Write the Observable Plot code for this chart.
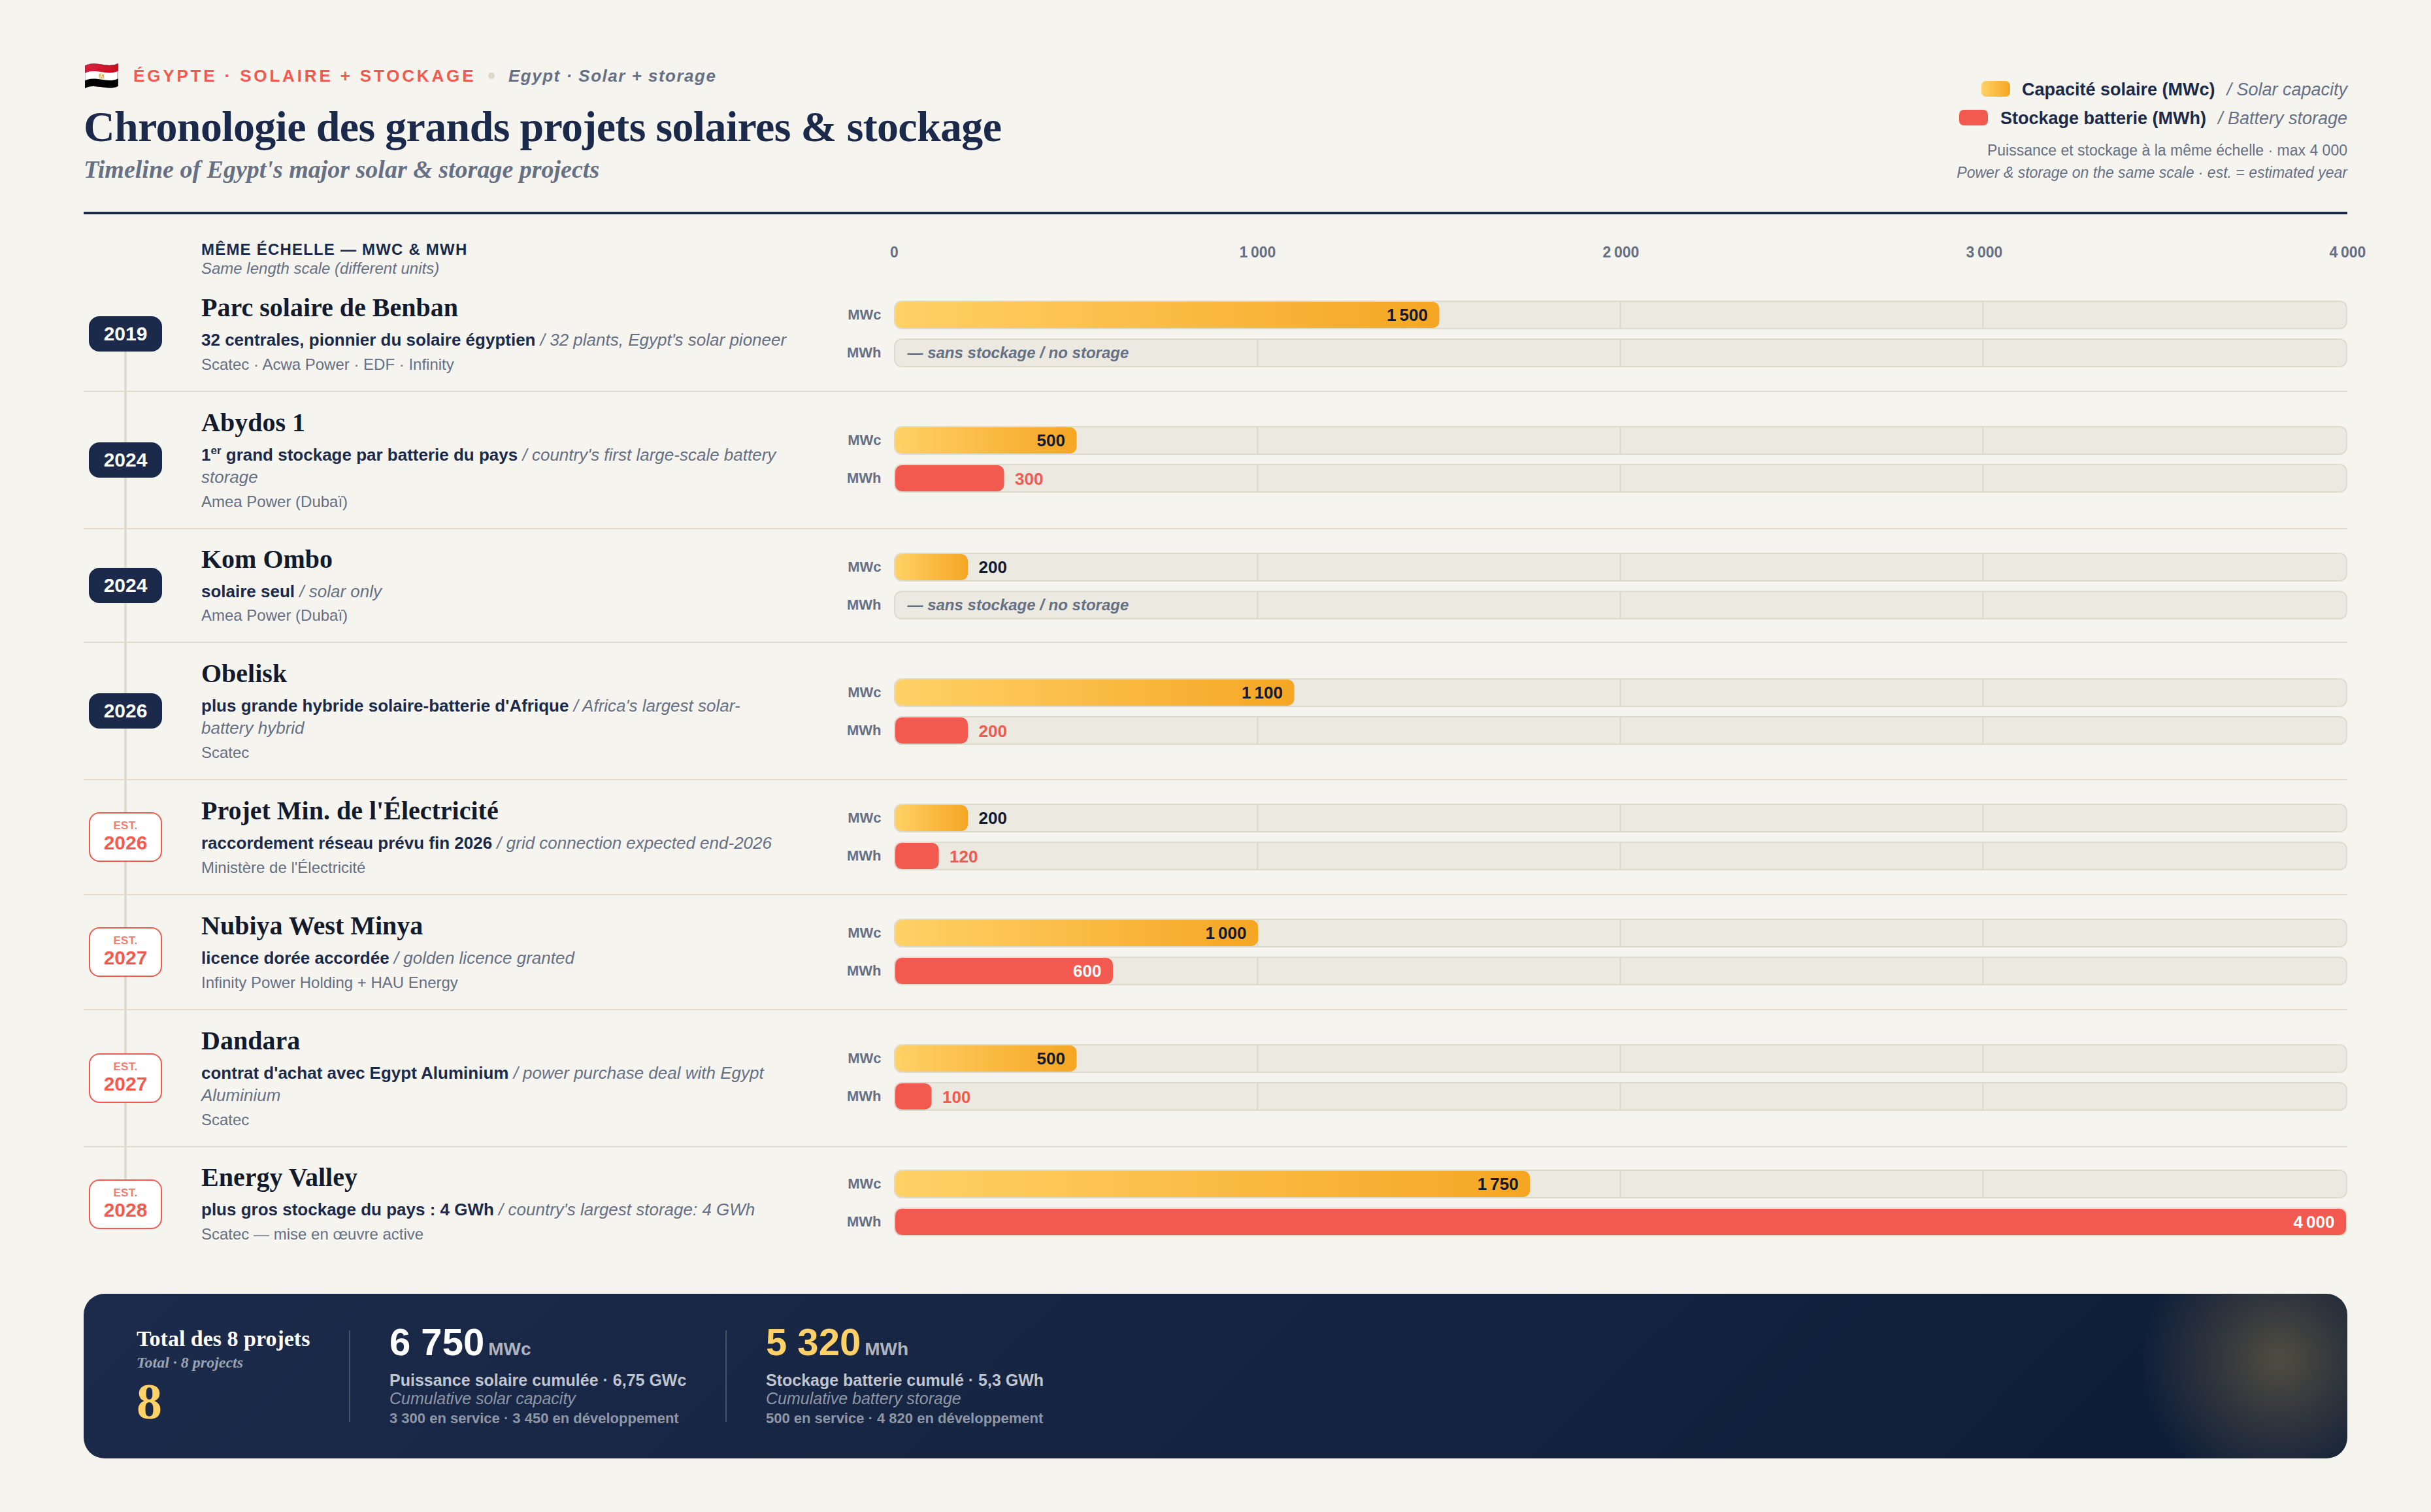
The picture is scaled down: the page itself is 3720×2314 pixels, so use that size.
<!DOCTYPE html>
<html lang="fr">
<head>
<meta charset="utf-8">
<script src="https://cdn.jsdelivr.net/npm/d3@7"></script>
<script src="https://cdn.jsdelivr.net/npm/@observablehq/plot@0.6"></script>
<style>
  html,body{margin:0;padding:0;background:#f6f4ef;}
  body{width:3720px;height:2314px;position:relative;overflow:hidden;font-family:"Liberation Sans",Arial,sans-serif;color:#1b2a4a;}
  #rows{position:absolute;left:128px;top:426px;width:3464px;}
  .row{position:relative;display:flex;align-items:center;border-bottom:2px solid #e1dbcf;box-sizing:border-box;}
  .row:last-child{border-bottom-color:transparent;}
  .line{position:absolute;left:62px;width:4px;background:#e1dbcf;top:0;bottom:-2px;}
  .row:first-child .line{top:50%;}
  .row:last-child .line{bottom:50%;}
  .badgecol{position:relative;width:128px;flex:none;display:flex;justify-content:center;}
  .badge{width:112px;height:54px;border-radius:16px;background:#1b2a4a;color:#fff;font-weight:700;font-size:30px;line-height:1;display:flex;align-items:center;justify-content:center;}
  .badge.est{height:76px;box-sizing:border-box;background:#fff;border:2px solid #f25a50;color:#f25a50;flex-direction:column;padding-bottom:3px;}
  .badge.est small{font-size:17px;letter-spacing:.3px;font-weight:700;color:#f47c74;margin-bottom:3px;}
  .txt{margin-left:52px;width:898px;flex:none;align-self:flex-start;}
  .name{font-family:"Liberation Serif",serif;font-weight:700;font-size:40px;line-height:50px;color:#121a2e;}
  .desc{font-size:26px;line-height:34px;margin-top:7px;color:#667085;font-style:italic;}
  .desc b{font-style:normal;color:#1b2a4a;}
  .desc sup{font-size:17px;line-height:0;}
  .who{font-size:24px;line-height:30px;color:#667085;}
  .plotcell{position:absolute;left:1132px;height:102px;}
  #foot{position:absolute;left:128px;top:1980px;width:3464px;height:252px;border-radius:32px;overflow:hidden;
    background:radial-gradient(circle at 3359px 100px,rgba(255,200,90,.27),rgba(255,200,90,.12) 110px,rgba(255,200,90,0) 210px),linear-gradient(135deg,#1c2b4b,#0f1e38 90%);}
</style>
</head>
<body>
<script>
// ---- data ----
const names = ["Parc solaire de Benban","Abydos 1","Kom Ombo","Obelisk","Projet Min. de l'Électricité","Nubiya West Minya","Dandara","Energy Valley"];
const years = [2019,2024,2024,2026,2026,2027,2027,2028];
const estimated = [false,false,false,false,true,true,true,true];
const descFr = ["32 centrales, pionnier du solaire égyptien","1<sup>er</sup> grand stockage par batterie du pays","solaire seul","plus grande hybride solaire-batterie d'Afrique","raccordement réseau prévu fin 2026","licence dorée accordée","contrat d'achat avec Egypt Aluminium","plus gros stockage du pays : 4 GWh"];
const descEn = ["32 plants, Egypt's solar pioneer","country's first large-scale battery storage","solar only","Africa's largest solar-battery hybrid","grid connection expected end-2026","golden licence granted","power purchase deal with Egypt Aluminium","country's largest storage: 4 GWh"];
const owners = ["Scatec · Acwa Power · EDF · Infinity","Amea Power (Dubaï)","Amea Power (Dubaï)","Scatec","Ministère de l'Électricité","Infinity Power Holding + HAU Energy","Scatec","Scatec — mise en œuvre active"];
const solarMWc = [1500,500,200,1100,200,1000,500,1750];
const storageMWh = [null,300,null,200,120,600,100,4000];
const axisTicks = [0,1000,2000,3000,4000];
const gridTicks = [1000,2000,3000];
const units = ["MWc","MWh"];
const scaleMax = 4000;
// layout of the rows (pixels)
const rowHeights = [174,210,174,210,176,176,210,176];
const barOffsets = [34,52,36,54,36,36,52,34];
const textTops   = [20,22,21,22,22,22,22,21];
const ownerGaps  = [6,6,5,6,6,6,6,6];

const fmt = d => d3.format(",")(d).replace(/,/g,"\u202f");
const GOLD="#ffd166", ORANGE="#f5a623", RED="#f25a50", NAVY="#1b2a4a", INK="#111a2e", GREY="#667085";

function el(tag,css,html,parent=document.body){const e=document.createElement(tag);if(css)e.style.cssText=css;if(html!=null)e.innerHTML=html;parent.appendChild(e);return e;}
function T(x,y,html,css,parent){ // y = vertical centre
  return el("div",`position:absolute;left:${x}px;top:${y}px;transform:translateY(-50%);white-space:nowrap;line-height:1.2;${css}`,html,parent);}
function TR(r,y,html,css,parent){
  return el("div",`position:absolute;right:${r}px;top:${y}px;transform:translateY(-50%);white-space:nowrap;line-height:1.2;${css}`,html,parent);}

// shared gradient
document.body.insertAdjacentHTML("beforeend",`<svg width="0" height="0" style="position:absolute"><defs><linearGradient id="goldbar" x1="0" x2="1" y1="0" y2="0"><stop offset="0" stop-color="${GOLD}"/><stop offset="1" stop-color="${ORANGE}"/></linearGradient></defs></svg>`);

// ---- header ----
T(128,116,"🇪🇬","font-size:44px;");
T(204,117,"ÉGYPTE · SOLAIRE + STOCKAGE",`font-weight:700;font-size:26px;letter-spacing:3.84px;color:${RED};`);
el("div","position:absolute;left:747px;top:111px;width:10px;height:10px;border-radius:50%;background:#ddd8cc;");
T(778,117,"Egypt · Solar + storage",`font-weight:700;font-style:italic;font-size:26px;letter-spacing:1.5px;color:${GREY};`);
T(128,194,"Chronologie des grands projets solaires &amp; stockage",`font-family:'Liberation Serif',serif;font-weight:700;font-size:66px;letter-spacing:-.66px;color:${NAVY};`);
T(128,260,"Timeline of Egypt's major solar &amp; storage projects",`font-family:'Liberation Serif',serif;font-weight:700;font-style:italic;font-size:38px;color:${GREY};`);
el("div",`position:absolute;left:128px;top:324px;width:3464px;height:4px;background:${NAVY};`);

// legend
el("div",`position:absolute;left:3032px;top:124px;width:44px;height:24px;border-radius:7px;background:linear-gradient(90deg,${GOLD},${ORANGE});`);
T(3094,137,"Capacité solaire (MWc)",`font-weight:700;font-size:27px;color:${NAVY};`);
TR(128,137,"/ Solar capacity",`font-style:italic;font-size:27px;color:${GREY};`);
el("div",`position:absolute;left:2998px;top:168px;width:44px;height:24px;border-radius:7px;background:${RED};`);
T(3061,181,"Stockage batterie (MWh)",`font-weight:700;font-size:27px;color:${NAVY};`);
TR(128,181,"/ Battery storage",`font-style:italic;font-size:27px;color:${GREY};`);
TR(128,231,"Puissance et stockage à la même échelle · max 4 000",`font-size:23px;color:${GREY};`);
TR(128,265,"Power &amp; storage on the same scale · est. = estimated year",`font-style:italic;font-size:23px;color:${GREY};`);

// column header
T(308,382,"MÊME ÉCHELLE — MWC &amp; MWH",`font-weight:700;font-size:24px;letter-spacing:1.2px;color:${NAVY};`);
T(308,411,"Same length scale (different units)",`font-style:italic;font-size:24px;color:${GREY};`);

// top axis
const axisPlot = Plot.plot({
  width: 2350, height: 40, marginLeft: 108, marginRight: 18, marginTop: 0, marginBottom: 0,
  style:{background:"transparent",fontFamily:"'Liberation Sans',sans-serif",overflow:"visible"},
  x:{domain:[0,scaleMax],axis:null},
  marks:[Plot.text(axisTicks,{x:d=>d,frameAnchor:"middle",text:fmt,fontSize:23,fontWeight:700,fill:GREY})]
});
axisPlot.style.cssText+=";position:absolute;left:1260px;top:366px;";
document.body.appendChild(axisPlot);

// ---- rows ----
const rows = el("div",null,null); rows.id="rows";
names.forEach((name,i)=>{
  const row = el("div",`height:${rowHeights[i]}px;`,null,rows); row.className="row";
  const line = el("div",null,null,row); line.className="line";
  const col = el("div",i===0?"transform:translateY(-1px);":null,null,row); col.className="badgecol";
  const b = el("div",null,estimated[i]?`<small>EST.</small>${years[i]}`:`${years[i]}`,col); b.className="badge"+(estimated[i]?" est":"");
  const t = el("div",`padding-top:${textTops[i]}px;`,null,row); t.className="txt";
  el("div",null,name,t).className="name";
  el("div",null,`<b>${descFr[i]}</b> / ${descEn[i]}`,t).className="desc";
  el("div",`margin-top:${ownerGaps[i]}px;`,owners[i],t).className="who";

  const recs = [{u:"MWc",v:solarMWc[i]},{u:"MWh",v:storageMWh[i]}];
  const filled = recs.filter(r=>r.v!=null);
  const inside = r => r.v>=500;
  const grid = units.flatMap(u=>gridTicks.map(x=>({u,x})));
  const p = Plot.plot({
    width: 2332, height: 102, marginLeft: 110, marginRight: 2, marginTop: 2, marginBottom: 2,
    style:{background:"transparent",fontFamily:"'Liberation Sans',sans-serif",overflow:"visible"},
    x:{domain:[0,scaleMax],axis:null},
    y:{domain:units,paddingInner:18/58,paddingOuter:0,axis:null},
    marks:[
      Plot.barX(units,{x1:0,x2:scaleMax,y:d=>d,fill:"#ece9e1",stroke:"#dfdace",strokeWidth:2,rx:11,insetLeft:-1,insetRight:-1,insetTop:-1,insetBottom:-1}),
      Plot.tickX(grid,{x:"x",y:"u",stroke:"#dcd7cb",strokeWidth:2,dx:-1}),
      Plot.barX(filled,{x1:0,x2:"v",y:"u",rx:10,fill:r=>r.u==="MWc"?"url(#goldbar)":RED}),
      Plot.axisY({anchor:"left",tickSize:0,tickPadding:22,fontSize:22,fontWeight:700,fill:GREY,label:null,dy:-1}),
      Plot.text(filled.filter(inside),{x:"v",y:"u",text:r=>fmt(r.v),textAnchor:"end",dx:-18,fontSize:26,fontWeight:700,fill:r=>r.u==="MWc"?INK:"#fff"}),
      Plot.text(filled.filter(r=>!inside(r)&&r.u==="MWc"),{x:"v",y:"u",text:r=>fmt(r.v),textAnchor:"start",dx:16,fontSize:26,fontWeight:700,fill:INK}),
      Plot.text(filled.filter(r=>!inside(r)&&r.u==="MWh"),{x:"v",y:"u",text:r=>fmt(r.v),textAnchor:"start",dx:16,dy:1,fontSize:26,fontWeight:700,fill:RED}),
      Plot.text(recs.filter(r=>r.v==null),{x:()=>0,y:"u",text:()=>"— sans stockage / no storage",textAnchor:"start",dx:18,fontSize:24,fontWeight:700,fontStyle:"italic",fill:GREY})
    ]
  });
  const c = el("div",`top:${barOffsets[i]}px;`,null,row); c.className="plotcell"; c.appendChild(p);
});

// ---- footer ----
const foot = el("div",null,null); foot.id="foot";
const S="font-family:'Liberation Serif',serif;";
T(81,69,"Total des 8 projets",S+"font-weight:700;font-size:34px;color:#fff;",foot);
T(81,105,"Total · 8 projects",S+"font-weight:700;font-style:italic;font-size:24px;color:#9aa3b2;",foot);
T(81,165,"8",S+"font-weight:700;font-size:78px;color:"+GOLD+";",foot);
el("div","position:absolute;left:406px;top:56px;width:2px;height:140px;background:rgba(255,255,255,.2);",null,foot);
el("div","position:absolute;left:982px;top:56px;width:2px;height:140px;background:rgba(255,255,255,.2);",null,foot);
T(468,74,`<span style="font-weight:700;font-size:58px;color:#fff;">6 750</span><span style="font-weight:700;font-size:28px;color:#aeb4c0;margin-left:6px;">MWc</span>`,"",foot);
T(468,132,"Puissance solaire cumulée · 6,75 GWc","font-weight:700;font-size:25px;color:#bfc4ce;",foot);
T(468,160,"Cumulative solar capacity","font-style:italic;font-size:25px;color:#8f97a6;",foot);
T(468,191,"3 300 en service · 3 450 en développement","font-weight:700;font-size:22px;color:#8f97a6;",foot);
T(1044,74,`<span style="font-weight:700;font-size:58px;color:${GOLD};">5 320</span><span style="font-weight:700;font-size:28px;color:#aeb4c0;margin-left:6px;">MWh</span>`,"",foot);
T(1044,132,"Stockage batterie cumulé · 5,3 GWh","font-weight:700;font-size:25px;color:#bfc4ce;",foot);
T(1044,160,"Cumulative battery storage","font-style:italic;font-size:25px;color:#8f97a6;",foot);
T(1044,191,"500 en service · 4 820 en développement","font-weight:700;font-size:22px;color:#8f97a6;",foot);
</script>
</body>
</html>
